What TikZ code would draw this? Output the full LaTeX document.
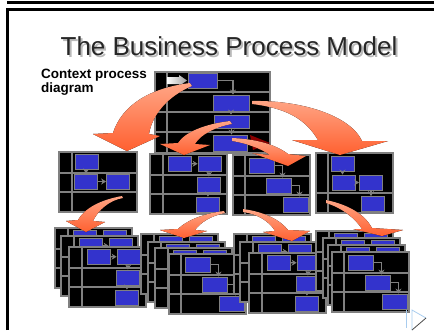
\documentclass[tikz,border=0pt]{standalone}
\usepackage{fontspec}
\setmainfont{Liberation Sans}
\usetikzlibrary{arrows.meta}
\definecolor{lanegray}{HTML}{808080}
\definecolor{taskblue}{HTML}{3333CC}
\definecolor{swooshdark}{HTML}{FF6030}
\definecolor{swooshlight}{HTML}{FFA585}
\definecolor{playblue}{HTML}{A8CCEE}
\tikzset{
  cardbg/.style={fill=black, draw=lanegray, line width=1.2pt},
  lane/.style={draw=lanegray, line width=2pt},
  task/.style={draw=lanegray, fill=taskblue, line width=0.8pt, inner sep=0pt, minimum width=23pt, minimum height=15pt},
  flow/.style={draw=lanegray, line width=1.2pt, -{Stealth[length=5pt, width=6pt]}},
  swoosh/.style={top color=swooshlight, bottom color=swooshdark, draw=none},
}
\newcommand\shadowtext[1]{\makebox[0pt][l]{\hspace{2pt}\raisebox{-2pt}{\color{gray!55}#1}}#1}
\newcommand\cardA[2]{%
  \begin{scope}[shift={(#1,#2)}]
    \draw[cardbg] (0,0) rectangle (78,60);
    \draw[lane] (13,0) -- (13,60);
    \draw[lane] (0,21) -- (78,21);
    \draw[lane] (0,40) -- (78,40);
    \node[task] (a) at (27.5,9.5) {};
    \node[task] (b) at (26.5,29.5) {};
    \node[task] (c) at (59,29.5) {};
    \draw[flow] (a) -- (b);
    \draw[flow] (b) -- (c);
  \end{scope}}
\newcommand\cardB[2]{%
  \begin{scope}[shift={(#1,#2)}]
    \draw[cardbg] (0,0) rectangle (77,60);
    \draw[lane] (13,0) -- (13,60);
    \draw[lane] (0,21) -- (77,21);
    \draw[lane] (0,40) -- (77,40);
    \node[task] (a) at (30,9.5) {};
    \node[task] (b) at (59.5,10) {};
    \node[task] (c) at (58.5,30.5) {};
    \node[task] (d) at (57.5,50.5) {};
    \draw[flow] (a) -- (b);
    \draw[flow] (b) -- (c);
    \draw[flow] (c) -- (d);
  \end{scope}}
\newcommand\cardC[2]{%
  \begin{scope}[shift={(#1,#2)}]
    \draw[cardbg] (0,0) rectangle (77,60);
    \draw[lane] (12,0) -- (12,60);
    \draw[lane] (0,21) -- (77,21);
    \draw[lane] (0,40) -- (77,40);
    \node[task, minimum width=25pt] (a) at (28.5,10.5) {};
    \node[task, minimum width=25pt] (b) at (45.5,30.5) {};
    \node[task, minimum width=25pt] (c) at (62.5,49.5) {};
    \draw[flow] (a.east) -| ([xshift=4pt]b.north);
    \draw[flow] (b.east) -| ([xshift=4pt]c.north);
  \end{scope}}
\newcommand\cardD[2]{%
  \begin{scope}[shift={(#1,#2)}]
    \draw[cardbg] (0,0) rectangle (77,60);
    \draw[lane] (12,0) -- (12,60);
    \draw[lane] (0,40) -- (77,40);
    \node[task] (a) at (26.5,11) {};
    \node[task] (b) at (28,29.5) {};
    \node[task] (c) at (55,29.5) {};
    \node[task] (d) at (56.5,51) {};
    \draw[flow] (a.south) -- (a.south |- b.north);
    \draw[flow] (b) -- (c);
    \draw[flow] (c.south) -- (c.south |- d.north);
  \end{scope}}
\begin{document}
\begin{tikzpicture}[x=1pt, y=-1pt]
\useasboundingbox (0,0) rectangle (434,330);
\draw[line width=3pt] (7,2.5) -- (434,2.5);
\draw[line width=3pt] (7.5,330) -- (7.5,9.5) -- (434,9.5);
\node[anchor=base, text=black!85, font=\fontsize{26}{30}\selectfont] (title) at (229,55) {\shadowtext{The Business Process Model}};
\node[anchor=north west, align=left, inner sep=0pt, font=\bfseries\fontsize{13.5}{14.5}\selectfont] (context) at (41,68.5) {Context process\\diagram};
% context process diagram
\begin{scope}[shift={(155,72)}]
  \draw[cardbg] (0,0) rectangle (115,81);
  \draw[lane] (12,0) -- (12,81);
  \draw[lane] (0,20) -- (115,20);
  \draw[lane] (0,40) -- (115,40);
  \draw[lane] (0,60) -- (115,60);
  \node[task, minimum width=29pt] (t1) at (47.5,8.5) {};
  \node[task, minimum width=36pt, minimum height=16pt] (t2) at (76,31) {};
  \node[task, minimum width=35pt, minimum height=13pt] (t3) at (76.5,49.5) {};
  \node[task, minimum width=34pt, minimum height=16pt] (t4) at (75,71) {};
  \fill[left color=white, right color=gray!75] (12,5) -- (24,5) -- (24,3) -- (32,8.5) -- (24,14) -- (24,12) -- (12,12) -- cycle;
  \draw[flow] (t1.east) -| ([xshift=2pt]t2.north);
  \draw[flow] (t2.south) -- (t2.south |- t3.north);
  \draw[flow] (t3.south) -- (t3.south |- t4.north);
\end{scope}
% second level
\cardA{59}{152}
\cardB{150}{154}
\cardC{233}{155}
\cardD{316}{153}
% third level
\cardB{55}{228}
\cardB{61}{236}
\cardB{69}{247}
\cardB{141}{234}
\cardB{148}{242}
\cardB{155}{248}
\cardC{169}{254}
\cardB{234}{234}
\cardB{240}{242}
\cardB{249}{253}
\cardB{316}{231}
\cardB{323}{238}
\cardB{328}{245}
\cardC{332}{252}
% swooshes
\fill[swoosh] (190,83) .. controls (150,88) and (122,105) .. (113,133) -- (93,134) -- (127,151) -- (160,136) -- (149,134) .. controls (152,115) and (168,96) .. (192,86) -- cycle;
\fill[swoosh] (230,121) .. controls (205,124) and (185,132) .. (178,143) -- (160,144) -- (184,155) -- (210,145) -- (195,144) .. controls (200,135) and (215,127) .. (232,124) -- cycle;
\fill[swoosh] (252,101) .. controls (300,100) and (350,115) .. (362,141) -- (388,141) -- (340,155) -- (292,140) -- (318,140) .. controls (305,118) and (285,108) .. (252,104) -- cycle;
\fill[fill=red!55!black] (250,135) -- (270,143) -- (253,150) -- cycle;
\fill[swoosh] (232,138) .. controls (255,139) and (275,144) .. (288,154) -- (306,156) -- (288,166) -- (252,153) -- (270,155) .. controls (260,148) and (245,143) .. (232,141) -- cycle;
\fill[swoosh] (122,196) .. controls (100,200) and (85,208) .. (78,220) -- (66,221) -- (86,232) -- (105,222) -- (93,221) .. controls (98,210) and (110,200) .. (123,198) -- cycle;
\fill[swoosh] (224,211) .. controls (200,214) and (185,222) .. (178,229) -- (160,230) -- (184,238) -- (207,231) -- (195,230) .. controls (200,223) and (210,216) .. (225,213) -- cycle;
\fill[swoosh] (243,209) .. controls (265,212) and (280,220) .. (288,230) -- (310,231) -- (292,241) -- (263,232) -- (275,231) .. controls (270,222) and (258,214) .. (243,212) -- cycle;
\fill[swoosh] (326,200) .. controls (350,205) and (365,215) .. (372,228) -- (403,230) -- (382,236) -- (353,229) -- (362,229) .. controls (355,218) and (342,208) .. (326,203) -- cycle;
% play button
\draw[playblue, line width=1pt] (406,310) -- (406,328);
\draw[playblue, line width=0.8pt] (412,330) -- (412,310) -- (426,318);
\draw[black!70, line width=0.8pt] (426,318) -- (412,330);
\end{tikzpicture}
\end{document}
